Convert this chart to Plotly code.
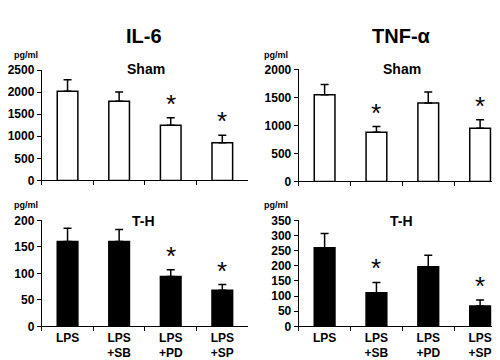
import plotly.graph_objects as go

categories = ["LPS", "LPS<br>+SB", "LPS<br>+PD", "LPS<br>+SP"]

il6_sham_mean = [2020, 1790, 1250, 850]
il6_sham_err = [260, 210, 170, 170]
il6_sham_sig = [False, False, True, True]

tnf_sham_mean = [1550, 880, 1400, 950]
tnf_sham_err = [180, 100, 200, 150]
tnf_sham_sig = [False, True, False, True]

il6_th_mean = [160, 160, 94, 68]
il6_th_err = [25, 23, 13, 11]
il6_th_sig = [False, False, True, True]

tnf_th_mean = [260, 111, 197, 67]
tnf_th_err = [47, 34, 38, 20]
tnf_th_sig = [False, True, False, True]

FONT = "Liberation Sans, Arial, sans-serif"

panels = [
    (il6_sham_mean, il6_sham_err, il6_sham_sig, "white", "x", "y", 2500, [0.06, 0.476], [0.522, 0.841]),
    (tnf_sham_mean, tnf_sham_err, tnf_sham_sig, "white", "x2", "y2", 2000, [0.578, 0.996], [0.519, 0.8425]),
    (il6_th_mean, il6_th_err, il6_th_sig, "black", "x3", "y3", 200, [0.06, 0.476], [0.1, 0.4064]),
    (tnf_th_mean, tnf_th_err, tnf_th_sig, "black", "x4", "y4", 350, [0.578, 0.996], [0.1, 0.4064]),
]

fig = go.Figure()
annotations = []
layout_axes = {}

for i, (mean, err, sig, fill, xa, ya, ymax, xdom, ydom) in enumerate(panels):
    fig.add_trace(go.Bar(
        x=categories, y=mean, xaxis=xa, yaxis=ya, width=0.4,
        marker=dict(color=fill, line=dict(color="black", width=1.5)),
        error_y=dict(type="data", symmetric=False, array=err, arrayminus=[0] * len(err),
                     color="black", thickness=1.5, width=4),
        showlegend=False,
    ))
    for c, m, e, s in zip(categories, mean, err, sig):
        if s:
            annotations.append(dict(
                x=c, y=m + e, xref=xa, yref=ya, text="*", showarrow=False,
                yanchor="bottom", yshift=-3,
                font=dict(family=FONT, size=26, color="black"),
            ))
    suffix = "" if i == 0 else str(i + 1)
    is_bottom = i >= 2
    layout_axes["xaxis" + suffix] = dict(
        domain=xdom, anchor=ya, type="category", range=[-0.5, 3.5],
        showline=True, linecolor="black", linewidth=1,
        ticks="outside", tickson="boundaries", ticklen=4, tickcolor="black",
        showticklabels=is_bottom, showgrid=False, zeroline=False,
        tickfont=dict(family=FONT, size=12, color="black", weight="bold"),
    )
    layout_axes["yaxis" + suffix] = dict(
        domain=ydom, anchor=xa, range=[0, ymax], dtick=50 if ymax <= 350 else 500,
        showline=True, linecolor="black", linewidth=1,
        ticks="outside", ticklen=4, tickcolor="black", showgrid=False, zeroline=False,
        tickfont=dict(family=FONT, size=12, color="black", weight="bold"),
    )

texts = [
    ("IL-6", 0.266, 22, 20),
    ("TNF-α", 0.786, 22, 20),
    ("Sham", 0.27, 56, 14),
    ("Sham", 0.786, 56, 14),
    ("T-H", 0.266, 214, 14),
    ("T-H", 0.786, 214, 14),
]
for t, x, ypix, size in texts:
    annotations.append(dict(
        text=t, x=x, y=1 - ypix / 360, xref="paper", yref="paper",
        showarrow=False, xanchor="center", yanchor="middle",
        font=dict(family=FONT, size=size, color="black", weight="bold"),
    ))
for x, ypix in [(0.0, 42), (0.504, 42), (0.0, 198), (0.504, 198)]:
    annotations.append(dict(
        text="pg/ml", x=x, y=1 - ypix / 360, xref="paper", yref="paper",
        showarrow=False, xanchor="left", yanchor="middle",
        font=dict(family=FONT, size=9, color="black", weight="bold"),
    ))

fig.update_layout(
    width=500, height=360, margin=dict(l=0, r=0, t=0, b=0),
    paper_bgcolor="white", plot_bgcolor="white",
    annotations=annotations, bargap=0.6,
    **layout_axes,
)

fig.write_html("out.html")
